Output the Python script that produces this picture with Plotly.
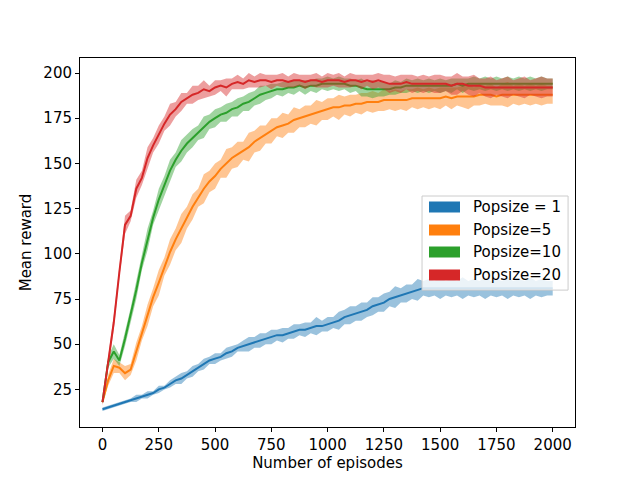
import numpy as np
import plotly.graph_objects as go

episodes = list(range(0, 2001, 25))

names = ["Popsize = 1", "Popsize=5", "Popsize=10", "Popsize=20"]
colors = ["#1f77b4", "#ff7f0e", "#2ca02c", "#d62728"]

pop1_mean = [14, 15, 16, 17, 18, 19, 20, 21, 22, 23,
             25, 26, 28, 30, 31, 33, 35, 37, 39, 41,
             42, 43, 45, 46, 48, 49, 50, 51, 52, 53,
             54, 55, 55, 56, 57, 58, 58, 59, 60, 60,
             61, 62, 63, 65, 66, 67, 68, 69, 71, 72,
             73, 75, 76, 77, 78, 79, 80, 81, 81, 81,
             81, 81, 81, 81, 81, 81, 81, 81, 81, 81,
             81, 81, 81, 81, 81, 81, 81, 81, 81, 81, 81]
pop1_spread = [1, 1, 1, 1, 1, 1, 2, 1, 2, 1,
               2, 1, 2, 2, 3, 2, 3, 2, 3, 2,
               3, 2, 3, 3, 2, 3, 4, 3, 4, 3,
               4, 3, 4, 3, 4, 3, 4, 3, 5, 3,
               4, 3, 5, 4, 5, 4, 5, 4, 5, 4,
               5, 4, 6, 4, 5, 4, 6, 4, 5, 4,
               6, 4, 5, 4, 6, 4, 5, 4, 6, 4,
               5, 4, 6, 4, 5, 4, 6, 4, 5, 4, 4]

pop5_mean = [18, 30, 38, 37, 34, 36, 46, 56, 66, 76,
             84, 93, 101, 108, 114, 120, 126, 131, 136, 140,
             143, 147, 150, 153, 155, 157, 159, 162, 164, 166,
             168, 170, 171, 172, 174, 175, 176, 177, 178, 179,
             180, 181, 181, 182, 182, 183, 183, 184, 184, 184,
             185, 185, 185, 185, 185, 186, 186, 186, 186, 186,
             186, 187, 186, 187, 187, 187, 187, 188, 188, 188,
             187, 188, 188, 188, 188, 188, 188, 188, 188, 188, 188]
pop5_spread = [1, 3, 4, 3, 4, 3, 5, 4, 6, 5,
               7, 5, 7, 6, 8, 6, 7, 5, 8, 6,
               7, 5, 8, 6, 7, 5, 8, 6, 7, 5,
               7, 5, 7, 5, 7, 5, 6, 5, 7, 5,
               6, 5, 7, 5, 6, 5, 6, 5, 6, 5,
               6, 5, 6, 5, 6, 5, 6, 5, 6, 5,
               6, 5, 6, 5, 6, 7, 5, 6, 5, 6,
               5, 6, 7, 5, 6, 5, 6, 5, 6, 5, 5]

pop10_mean = [18, 40, 46, 41, 53, 66, 80, 95, 108, 120,
              130, 138, 146, 152, 157, 161, 164, 167, 170, 173,
              175, 177, 178, 180, 181, 183, 184, 186, 188, 189,
              190, 191, 191, 192, 192, 193, 192, 193, 193, 194,
              194, 194, 194, 194, 193, 193, 192, 191, 191, 191,
              191, 191, 192, 192, 193, 193, 193, 193, 193, 193,
              193, 193, 193, 194, 193, 194, 194, 194, 194, 194,
              194, 194, 194, 194, 194, 194, 194, 194, 194, 194, 194]
pop10_spread = [1, 3, 4, 3, 4, 4, 5, 4, 6, 4,
                6, 5, 6, 4, 6, 5, 5, 4, 6, 4,
                5, 4, 5, 4, 5, 4, 5, 4, 5, 4,
                4, 3, 4, 3, 4, 3, 4, 3, 4, 3,
                4, 3, 4, 3, 4, 3, 5, 4, 5, 4,
                4, 3, 4, 3, 4, 3, 4, 3, 4, 3,
                4, 3, 4, 3, 4, 3, 4, 3, 4, 3,
                4, 3, 4, 3, 4, 3, 4, 3, 4, 3, 3]

pop20_mean = [18, 40, 62, 90, 116, 121, 136, 142, 153, 160,
              166, 172, 177, 180, 184, 186, 188, 189, 191, 190,
              192, 193, 192, 194, 195, 194, 196, 195, 196, 196,
              195, 196, 196, 195, 196, 196, 195, 196, 196, 195,
              196, 196, 196, 195, 196, 196, 195, 196, 195, 196,
              195, 194, 194, 194, 195, 194, 194, 194, 194, 194,
              194, 194, 193, 194, 194, 193, 193, 193, 192, 192,
              192, 192, 192, 192, 192, 192, 192, 192, 192, 192, 192]
pop20_spread = [2, 3, 4, 3, 5, 3, 5, 4, 6, 4,
                5, 4, 6, 4, 5, 3, 5, 4, 5, 3,
                4, 3, 5, 3, 4, 3, 4, 3, 4, 3,
                4, 3, 4, 3, 4, 3, 4, 3, 4, 3,
                4, 3, 4, 3, 4, 3, 4, 3, 4, 4,
                4, 5, 4, 5, 4, 5, 4, 5, 4, 5,
                5, 4, 5, 6, 4, 5, 6, 4, 5, 6,
                4, 5, 6, 4, 5, 6, 4, 5, 6, 5, 5]

series = [(pop1_mean, pop1_spread), (pop5_mean, pop5_spread),
          (pop10_mean, pop10_spread), (pop20_mean, pop20_spread)]


def rgba(hexc, a):
    h = hexc.lstrip("#")
    r, g, b = int(h[0:2], 16), int(h[2:4], 16), int(h[4:6], 16)
    return f"rgba({r},{g},{b},{a})"


fig = go.Figure()
x = np.array(episodes)
for (m, s), name, c in zip(series, names, colors):
    m = np.array(m, dtype=float)
    s = np.array(s, dtype=float)
    up = m + s
    lo = m - s
    fig.add_trace(go.Scatter(
        x=np.concatenate([x, x[::-1]]),
        y=np.concatenate([up, lo[::-1]]),
        fill="toself", fillcolor=rgba(c, 0.45),
        line=dict(width=0), mode="lines",
        hoverinfo="skip", showlegend=False, name=name))
    fig.add_trace(go.Scatter(
        x=x, y=m, mode="lines", line=dict(color=c, width=2),
        showlegend=False, name=name))

font = dict(family="DejaVu Sans", size=15, color="black")

fig.update_layout(
    width=640, height=480,
    margin=dict(l=80, r=65, t=58, b=53),
    paper_bgcolor="white", plot_bgcolor="white",
    font=font,
    xaxis=dict(range=[-100, 2099], tickvals=list(range(0, 2001, 250)),
               showgrid=False, zeroline=False, showline=True, linecolor="black",
               linewidth=1, mirror=True, ticks="outside", ticklen=4,
               tickcolor="black",
               title=dict(text="Number of episodes", font=font, standoff=4)),
    yaxis=dict(range=[4.2, 208.3], tickvals=list(range(25, 201, 25)),
               showgrid=False, zeroline=False, showline=True, linecolor="black",
               linewidth=1, mirror=True, ticks="outside", ticklen=4,
               tickcolor="black",
               title=dict(text="Mean reward", font=font, standoff=8)),
)

# legend drawn manually to match the wide colour patches
box_x0, box_x1 = 0.691, 0.986
box_y0, box_y1 = 0.371, 0.626
fig.add_shape(type="rect", xref="paper", yref="paper",
              x0=box_x0, x1=box_x1, y0=box_y0, y1=box_y1,
              fillcolor="rgba(255,255,255,0.8)",
              line=dict(color="#cccccc", width=1), layer="above")
row_py = [207, 230, 252, 275]
for py, name, c in zip(row_py, names, colors):
    yc = (427 - py) / 369
    fig.add_shape(type="rect", xref="paper", yref="paper",
                  x0=(429 - 80) / 495, x1=(460 - 80) / 495,
                  y0=yc - 5.5 / 369, y1=yc + 5.5 / 369,
                  fillcolor=c, line=dict(width=0), layer="above")
    fig.add_annotation(xref="paper", yref="paper",
                       x=(471 - 80) / 495, y=yc, text=name,
                       showarrow=False, xanchor="left", yanchor="middle",
                       font=font)

fig.write_html("out.html", config={"displayModeBar": False},
               post_script="document.body.style.margin='0';")
